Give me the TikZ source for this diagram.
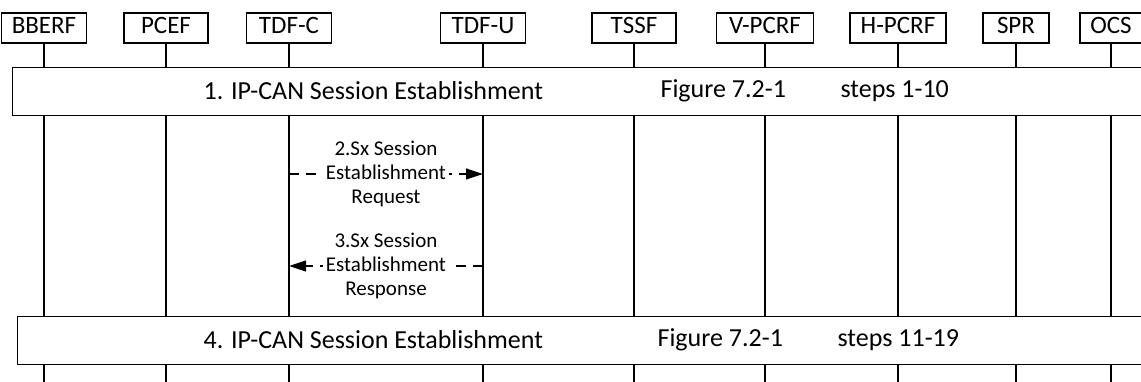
\documentclass[tikz,border=0pt]{standalone}
\usepackage{fontspec}
\setmainfont{Carlito}
\usetikzlibrary{arrows.meta}

\begin{document}
\begin{tikzpicture}[
       x=1pt, y=-1pt,
       line width=1.2pt,
       entite/.style={
         draw,
         fill=white,
         inner sep=0pt,
         text height=16pt,
         text depth=4pt,
         minimum height=30pt,
         font=\fontsize{25}{30}\selectfont
       },
       procedure/.style={
         draw,
         fill=white,
         anchor=north west,
         minimum height=48pt,
         minimum width=1140pt
       },
       etiquette/.style={
         anchor=west,
         inner sep=0pt,
         font=\fontsize{26}{30}\selectfont
       },
       msg/.style={
         fill=white,
         align=center,
         inner xsep=3pt,
         inner ysep=1pt,
         font=\fontsize{21}{24}\selectfont
       },
       fleche/.style={
         dash pattern=on 10pt off 7pt,
         -{Triangle[length=17pt,width=11pt]}
       }
     ]

       \useasboundingbox (0,0) rectangle (1141,382);

       % entities and lifelines
       \foreach \n/\x/\t/\w in {bberf/44/BBERF/85, pcef/166/PCEF/84,
           tdfc/289/TDF-C/85, tdfu/483/TDF-U/85, tssf/634/TSSF/84,
           vpcrf/765/V-PCRF/97, hpcrf/898/H-PCRF/96, spr/1016/SPR/66,
           ocs/1111/OCS/62}{
         \node (\n) at (\x,28) [entite, minimum width=\w pt]{\t};
         \coordinate (\n-bas) at (\x,382);
         \draw (\n) -- (\n-bas);
       }

       % procedures
       \node (p1) at (12,67) [procedure]{};
       \node (p1a) at (203,91) [etiquette]{1. IP-CAN Session Establishment};
       \node (p1b) at (660,91) [etiquette]{Figure 7.2-1};
       \node (p1c) at (840,91) [etiquette]{steps 1-10};

       \node (p4) at (17,316) [procedure]{};
       \node (p4a) at (203,340) [etiquette]{4. IP-CAN Session Establishment};
       \node (p4b) at (657,340) [etiquette]{Figure 7.2-1};
       \node (p4c) at (837,340) [etiquette]{steps 11-19};

       % Sx messages
       \coordinate (req-c) at (289,174);
       \coordinate (req-u) at (483,174);
       \draw[fleche] (req-c) -- (req-u);
       \node (req) at (386,174) [msg]{2.Sx Session\\Establishment\\Request};

       \coordinate (rep-u) at (483,266);
       \coordinate (rep-c) at (289,266);
       \draw[fleche] (rep-u) -- (rep-c);
       \node (rep) at (386,266) [msg]{3.Sx Session\\Establishment\\Response};

\end{tikzpicture}
\end{document}
